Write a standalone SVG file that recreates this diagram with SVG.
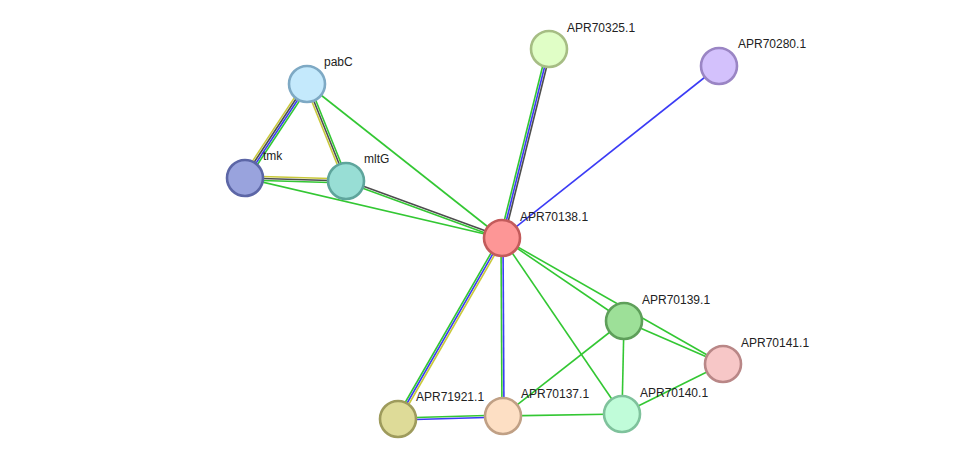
<svg xmlns="http://www.w3.org/2000/svg" width="975" height="464" viewBox="0 0 975 464">
<style>
.e line{stroke-width:1.6;fill:none}
.g{stroke:#33c733}
.b{stroke:#3b3bf5}
.k{stroke:#4d4d4d}
.y{stroke:#c9c93a}
.n circle{stroke-width:2.6}
text{font-family:"Liberation Sans",Arial,sans-serif;font-size:12px;fill:#222}
</style>
<rect width="975" height="464" fill="#fff"/>
<g id="edges" class="e">
<line class="y" x1="304.5" y1="82.35" x2="242.5" y2="176.35"/>
<line class="k" x1="306.16" y1="83.45" x2="244.16" y2="177.45"/>
<line class="b" x1="307.84" y1="84.55" x2="245.84" y2="178.55"/>
<line class="g" x1="309.5" y1="85.65" x2="247.5" y2="179.65"/>
<line class="y" x1="305.14" y1="84.75" x2="344.14" y2="181.75"/>
<line class="k" x1="307" y1="84" x2="346" y2="181"/>
<line class="g" x1="308.86" y1="83.25" x2="347.86" y2="180.25"/>
<line class="g" x1="307" y1="84" x2="502" y2="238"/>
<line class="y" x1="245" y1="176" x2="346" y2="179"/>
<line class="k" x1="245" y1="178" x2="346" y2="181"/>
<line class="g" x1="245" y1="180" x2="346" y2="183"/>
<line class="g" x1="245" y1="178" x2="502" y2="238"/>
<line class="k" x1="346.34" y1="180.06" x2="502.34" y2="237.06"/>
<line class="g" x1="345.66" y1="181.94" x2="501.66" y2="238.94"/>
<line class="g" x1="547.06" y1="48.52" x2="500.06" y2="237.52"/>
<line class="b" x1="549" y1="49" x2="502" y2="238"/>
<line class="k" x1="550.94" y1="49.48" x2="503.94" y2="238.48"/>
<line class="b" x1="719" y1="66" x2="502" y2="238"/>
<line class="g" x1="500.27" y1="237" x2="396.27" y2="418"/>
<line class="b" x1="502" y1="238" x2="398" y2="419"/>
<line class="y" x1="503.73" y1="239" x2="399.73" y2="420"/>
<line class="g" x1="501" y1="238" x2="502" y2="416"/>
<line class="b" x1="503" y1="238" x2="504" y2="416"/>
<line class="g" x1="502" y1="238" x2="622" y2="414"/>
<line class="g" x1="502" y1="238" x2="624" y2="321"/>
<line class="g" x1="502" y1="238" x2="723" y2="364"/>
<line class="g" x1="624" y1="321" x2="723" y2="364"/>
<line class="g" x1="624" y1="321" x2="503" y2="416"/>
<line class="g" x1="624" y1="321" x2="622" y2="414"/>
<line class="g" x1="622" y1="414" x2="723" y2="364"/>
<line class="g" x1="398" y1="418" x2="503" y2="415"/>
<line class="b" x1="398" y1="420" x2="503" y2="417"/>
<line class="g" x1="503" y1="416" x2="622" y2="414"/>
</g>
<g id="pabC" class="n"><circle cx="307" cy="84" r="18" fill="#c4e9fc" stroke="#7ea9c4"/><text x="324" y="66">pabC</text></g>
<g id="tmk" class="n"><circle cx="245" cy="178" r="18" fill="#99a3dd" stroke="#5c66a6"/><text x="263" y="160">tmk</text></g>
<g id="mltG" class="n"><circle cx="346" cy="181" r="18" fill="#98ded5" stroke="#5ea59c"/><text x="364" y="163">mltG</text></g>
<g id="APR70325.1" class="n"><circle cx="549" cy="49" r="18" fill="#e0fec6" stroke="#a6bd84"/><text x="567" y="32">APR70325.1</text></g>
<g id="APR70280.1" class="n"><circle cx="719" cy="66" r="18" fill="#d3c1fc" stroke="#9a85c4"/><text x="738" y="48">APR70280.1</text></g>
<g id="APR70138.1" class="n"><circle cx="502" cy="238" r="18" fill="#fd9696" stroke="#c35b5b"/><text x="520" y="221">APR70138.1</text></g>
<g id="APR70139.1" class="n"><circle cx="624" cy="321" r="18" fill="#9de098" stroke="#5e9f5a"/><text x="642" y="304">APR70139.1</text></g>
<g id="APR70141.1" class="n"><circle cx="723" cy="364" r="18" fill="#f7c7c7" stroke="#b98787"/><text x="741" y="347">APR70141.1</text></g>
<g id="APR71921.1" class="n"><circle cx="398" cy="419" r="18" fill="#dedb98" stroke="#9e9b5c"/><text x="416" y="401">APR71921.1</text></g>
<g id="APR70137.1" class="n"><circle cx="503" cy="416" r="18" fill="#fddfc4" stroke="#c0a085"/><text x="521" y="398">APR70137.1</text></g>
<g id="APR70140.1" class="n"><circle cx="622" cy="414" r="18" fill="#c0fcd9" stroke="#7fc29c"/><text x="640" y="397">APR70140.1</text></g>
</svg>
